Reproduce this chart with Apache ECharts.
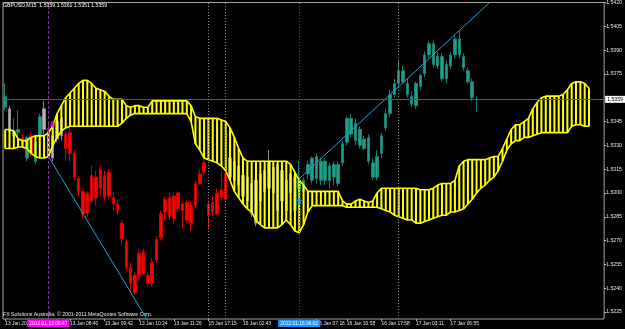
<!DOCTYPE html>
<html lang="en">
  <head>
    <meta charset="UTF-8" />
    <title>GBPUSD,M15 Ichimoku</title>
    <script src="https://cdn.jsdelivr.net/npm/echarts@6/dist/echarts.min.js"></script>
    <style>
      html, body { margin: 0; padding: 0; background: #000; }
      #chart { width: 625px; height: 329px; }
    </style>
  </head>
  <body>
    <div id="chart"></div>
    <script>
      // bars on the time axis (110 candles + 26 bars of shifted cloud + margin)
      const barCount = 139;

      // candles: [open, close, low, high]
      const candles = [
        [1.5354,1.5361,1.5352,1.5369],[1.5353,1.5339,1.5338,1.5355],[1.5336,1.5339,1.5333,1.5347],[1.5338,1.5340,1.5327,1.5352],
        [1.5335,1.5331,1.5328,1.5337],[1.5322,1.5335,1.5320,1.5336],[1.5336,1.5325,1.5323,1.5338],[1.5320,1.5332,1.5318,1.5333],
        [1.5336,1.5348,1.5334,1.5350],[1.5340,1.5353,1.5333,1.5358],[1.5341,1.5323,1.5322,1.5344],[1.5322,1.5336,1.5320,1.5339],
        [1.5334,1.5345,1.5332,1.5348],[1.5347,1.5336,1.5333,1.5352],[1.5337,1.5328,1.5320,1.5339],[1.5338,1.5325,1.5320,1.5342],
        [1.5325,1.5310,1.5308,1.5327],[1.5309,1.5301,1.5298,1.5311],[1.5301,1.5287,1.5284,1.5303],[1.5300,1.5287,1.5285,1.5301],
        [1.5311,1.5295,1.5293,1.5317],[1.5310,1.5297,1.5292,1.5314],[1.5315,1.5303,1.5298,1.5317],[1.5311,1.5297,1.5295,1.5314],
        [1.5313,1.5298,1.5296,1.5315],[1.5297,1.5293,1.5289,1.5301],[1.5293,1.5289,1.5286,1.5296],[1.5281,1.5271,1.5267,1.5283],
        [1.5269,1.5253,1.5251,1.5271],[1.5253,1.5243,1.5237,1.5256],[1.5248,1.5237,1.5236,1.5250],[1.5262,1.5248,1.5245,1.5264],
        [1.5263,1.5249,1.5248,1.5265],[1.5248,1.5243,1.5241,1.5250],[1.5256,1.5243,1.5241,1.5259],[1.5271,1.5258,1.5256,1.5273],
        [1.5287,1.5272,1.5270,1.5289],[1.5296,1.5288,1.5283,1.5298],[1.5297,1.5285,1.5283,1.5300],[1.5298,1.5284,1.5281,1.5300],
        [1.5300,1.5290,1.5288,1.5301],[1.5293,1.5289,1.5278,1.5295],[1.5294,1.5283,1.5281,1.5296],[1.5292,1.5281,1.5276,1.5295],
        [1.5306,1.5292,1.5290,1.5308],[1.5312,1.5306,1.5305,1.5315],[1.5319,1.5313,1.5311,1.5325],[1.5293,1.5286,1.5278,1.5295],
        [1.5294,1.5288,1.5286,1.5298],[1.5300,1.5287,1.5286,1.5303],[1.5302,1.5297,1.5295,1.5313],[1.5312,1.5296,1.5295,1.5314],
        [1.5322,1.5310,1.5308,1.5323],[1.5308,1.5320,1.5305,1.5322],[1.5317,1.5305,1.5303,1.5319],[1.5311,1.5298,1.5296,1.5313],
        [1.5310,1.5295,1.5292,1.5312],[1.5306,1.5287,1.5285,1.5308],[1.5281,1.5308,1.5279,1.5310],[1.5295,1.5312,1.5293,1.5314],
        [1.5314,1.5301,1.5298,1.5317],[1.5303,1.5320,1.5300,1.5327],[1.5316,1.5300,1.5298,1.5318],[1.5289,1.5318,1.5287,1.5320],
        [1.5314,1.5295,1.5293,1.5316],[1.5308,1.5289,1.5287,1.5310],[1.5300,1.5312,1.5298,1.5314],[1.5289,1.5310,1.5288,1.5311],
        [1.5303,1.5308,1.5301,1.5320],[1.5301,1.5308,1.5300,1.5310],[1.5312,1.5318,1.5309,1.5320],[1.5308,1.5322,1.5306,1.5323],
        [1.5323,1.5309,1.5306,1.5325],[1.5308,1.5320,1.5305,1.5322],[1.5320,1.5308,1.5305,1.5322],[1.5308,1.5317,1.5303,1.5319],
        [1.5318,1.5310,1.5305,1.5320],[1.5306,1.5318,1.5304,1.5320],[1.5319,1.5331,1.5317,1.5333],[1.5332,1.5347,1.5330,1.5348],
        [1.5337,1.5347,1.5335,1.5350],[1.5344,1.5333,1.5330,1.5347],[1.5340,1.5330,1.5328,1.5342],[1.5334,1.5328,1.5327,1.5336],
        [1.5335,1.5320,1.5318,1.5337],[1.5319,1.5310,1.5308,1.5322],[1.5310,1.5323,1.5308,1.5327],[1.5325,1.5336,1.5322,1.5338],
        [1.5341,1.5350,1.5339,1.5353],[1.5350,1.5362,1.5348,1.5365],[1.5362,1.5369,1.5360,1.5372],[1.5369,1.5377,1.5367,1.5383],
        [1.5377,1.5370,1.5369,1.5380],[1.5369,1.5362,1.5360,1.5372],[1.5361,1.5356,1.5354,1.5364],[1.5355,1.5369,1.5353,1.5370],
        [1.5367,1.5374,1.5365,1.5375],[1.5375,1.5387,1.5373,1.5389],[1.5387,1.5394,1.5385,1.5396],[1.5394,1.5381,1.5379,1.5396],
        [1.5380,1.5386,1.5378,1.5389],[1.5386,1.5372,1.5370,1.5388],[1.5372,1.5381,1.5369,1.5383],[1.5380,1.5387,1.5378,1.5389],
        [1.5387,1.5397,1.5385,1.5399],[1.5397,1.5387,1.5385,1.5402],[1.5386,1.5379,1.5377,1.5388],[1.5377,1.5370,1.5369,1.5379],
        [1.5370,1.5360,1.5358,1.5372],[1.5359,1.5359,1.5351,1.5361]
      ];

      // where each candle sits against the cloud: U above, I inside, D below
      const candleZone =
        "UIUUDUDUUIDIII" +
        "DDDDDDDDDDDDDDDDDDDDDDDDDDDDDDDDDDDDDD" +
        "IIIIIIIIIIIIIII" +
        "UUUUUUUUUUUUUUUUUUUUUUUUUUUUUUUUUUUUUUUUUUU";

      // Ichimoku cloud edges (shifted 26 bars forward)
      const spanUpper = [
        1.5340,1.5340,1.5339,1.5334,1.5333,1.5333,1.5335,1.5336,1.5336,1.5336,
        1.5338,1.5342,1.5350,1.5355,1.5360,1.5363,1.5366,1.5369,1.5371,1.5371,
        1.5369,1.5366,1.5365,1.5364,1.5361,1.5359,1.5359,1.5359,1.5355,1.5354,
        1.5355,1.5355,1.5354,1.5354,1.5358,1.5358,1.5358,1.5358,1.5358,1.5358,
        1.5358,1.5358,1.5358,1.5355,1.5348,1.5347,1.5347,1.5347,1.5347,1.5347,
        1.5346,1.5345,1.5341,1.5335,1.5328,1.5322,1.5320,1.5320,1.5320,1.5320,
        1.5320,1.5320,1.5320,1.5320,1.5320,1.5320,1.5318,1.5313,1.5308,1.5305,
        1.5301,1.5301,1.5301,1.5301,1.5301,1.5301,1.5301,1.5301,1.5295,1.5293,
        1.5293,1.5295,1.5296,1.5295,1.5294,1.5295,1.5300,1.5303,1.5303,1.5303,
        1.5303,1.5303,1.5303,1.5303,1.5303,1.5303,1.5302,1.5302,1.5302,1.5303,
        1.5305,1.5306,1.5306,1.5306,1.5308,1.5317,1.5320,1.5321,1.5321,1.5321,
        1.5321,1.5321,1.5322,1.5323,1.5323,1.5328,1.5334,1.5340,1.5343,1.5343,
        1.5345,1.5347,1.5353,1.5357,1.5360,1.5361,1.5361,1.5361,1.5361,1.5362,
        1.5365,1.5369,1.5370,1.5370,1.5369,1.5366
      ];
      const spanLower = [
        1.5328,1.5328,1.5328,1.5329,1.5329,1.5328,1.5325,1.5323,1.5322,1.5322,
        1.5323,1.5330,1.5335,1.5339,1.5341,1.5342,1.5342,1.5342,1.5342,1.5342,
        1.5342,1.5342,1.5342,1.5342,1.5342,1.5342,1.5342,1.5344,1.5347,1.5349,
        1.5350,1.5350,1.5350,1.5350,1.5350,1.5350,1.5350,1.5350,1.5350,1.5350,
        1.5350,1.5350,1.5350,1.5345,1.5331,1.5327,1.5322,1.5321,1.5320,1.5319,
        1.5317,1.5314,1.5308,1.5301,1.5297,1.5293,1.5290,1.5288,1.5283,1.5280,
        1.5278,1.5278,1.5278,1.5278,1.5280,1.5283,1.5280,1.5276,1.5275,1.5280,
        1.5288,1.5292,1.5292,1.5292,1.5292,1.5292,1.5292,1.5292,1.5292,1.5291,
        1.5291,1.5291,1.5291,1.5291,1.5291,1.5291,1.5291,1.5290,1.5289,1.5288,
        1.5286,1.5285,1.5284,1.5283,1.5283,1.5281,1.5281,1.5282,1.5283,1.5284,
        1.5285,1.5286,1.5286,1.5288,1.5288,1.5289,1.5290,1.5293,1.5296,1.5300,
        1.5303,1.5305,1.5308,1.5310,1.5314,1.5320,1.5327,1.5331,1.5333,1.5333,
        1.5335,1.5335,1.5336,1.5337,1.5338,1.5338,1.5338,1.5338,1.5338,1.5338,
        1.5338,1.5342,1.5343,1.5343,1.5342,1.5342
      ];

      // trend lines: [bar, price]
      const trendDown = [[10, 1.5323], [20, 1.5278], [30, 1.5233], [34, 1.5215]];
      const trendUp = [[68, 1.5309], [114, 1.5425]];

      // signal arrows: [bar, price]
      const sellArrow = [11, 1.5343];
      const buyArrow = [68, 1.5295];

      const lastPrice = 1.5359;
      const priceTicks = [1.5225, 1.5240, 1.5255, 1.5270, 1.5285, 1.5300, 1.5315,
        1.5330, 1.5345, 1.5375, 1.5390, 1.5405, 1.5420];

      const timeLabelIdx = [0, 15, 23, 31, 39, 47, 55, 72, 79, 87, 95, 103];
      const timeLabelText = ["13 Jan 2012", "13 Jan 08:40", "13 Jan 09:42", "13 Jan 10:24",
        "13 Jan 11:26", "15 Jan 17:15", "16 Jan 02:43", "16 Jan 07:16", "16 Jan 10:58",
        "16 Jan 17:58", "17 Jan 03:11", "17 Jan 06:55"];

      const zoneColor = {
        U: { body: "#1f9e8a", edge: "#17806f" },
        I: { body: "#b4b4b4", edge: "#8c8c8c" },
        D: { body: "#ff0000", edge: "#d40000" },
      };

      const font = "Liberation Sans";
      const smallText = { fontSize: 5.2, fontFamily: font, color: "#e8e8e8" };

      var chart = echarts.init(document.getElementById("chart"), null, { renderer: "canvas" });

      const categories = [];
      for (let i = 0; i < barCount; i++) categories.push(i);

      const candleData = candles.map((c, i) => {
        const col = zoneColor[candleZone[i]];
        return {
          value: c,
          itemStyle: { color: col.body, color0: col.body, borderColor: col.edge, borderColor0: col.edge },
        };
      });

      const isLabel = (i) => timeLabelIdx.indexOf(i) >= 0;

      const boxLabel = (text, bg) => ({
        show: true,
        position: "start",
        distance: 1,
        formatter: text,
        backgroundColor: bg,
        color: "#ffffff",
        fontSize: 4.9,
        fontFamily: font,
        padding: [1, 2],
      });

      var option = {
        animation: false,
        backgroundColor: "#000",
        title: {
          text: "GBPUSD,M15  1.5359 1.5361 1.5351 1.5359",
          left: 3,
          top: 3,
          padding: 0,
          textStyle: { fontSize: 5.2, fontFamily: font, fontWeight: "normal", color: "#ffffff" },
        },
        graphic: [
          {
            type: "text",
            left: 3,
            top: 312,
            style: {
              text: "FX Solutions Australia, \u00a9 2001-2011 MetaQuotes Software Corp.",
              fontSize: 5.2,
              fontFamily: font,
              fill: "#e8e8e8",
            },
          },
        ],
        grid: {
          left: 3,
          right: 20,
          top: 1,
          bottom: 10,
          show: true,
          borderColor: "#a8a898",
          borderWidth: 1,
          backgroundColor: "#000",
        },
        xAxis: {
          type: "category",
          data: categories,
          boundaryGap: true,
          axisLine: { show: false },
          axisTick: {
            show: true,
            interval: (i) => isLabel(i),
            alignWithLabel: true,
            length: 2,
            lineStyle: { color: "#b0b0b0" },
          },
          axisLabel: {
            interval: (i) => isLabel(i),
            formatter: (v, i) => {
              const k = timeLabelIdx.indexOf(i);
              return k >= 0 ? timeLabelText[k] : "";
            },
            align: "left",
            margin: 2,
            ...smallText,
            fontSize: 4.9,
          },
          splitLine: { show: false },
        },
        yAxis: {
          type: "value",
          position: "right",
          min: 1.52206,
          max: 1.542,
          axisLine: { show: false },
          axisTick: {
            show: true,
            customValues: priceTicks,
            length: 2,
            lineStyle: { color: "#c0c0c0" },
          },
          axisLabel: {
            customValues: priceTicks,
            formatter: (v) => v.toFixed(4),
            margin: 2,
            ...smallText,
          },
          splitLine: { show: false },
        },
        series: [
          {
            type: "candlestick",
            name: "GBPUSD",
            z: 2,
            barWidth: 3,
            data: candleData,
            markLine: {
              silent: true,
              symbol: ["none", "none"],
              precision: 4,
              animation: false,
              data: [
                {
                  yAxis: lastPrice,
                  lineStyle: { color: "#5a5a5a", type: "solid", width: 1 },
                  label: {
                    show: true,
                    position: "end",
                    distance: 1,
                    formatter: "1.5359",
                    backgroundColor: "#ffffff",
                    color: "#000",
                    fontSize: 5.2,
                    fontFamily: font,
                    padding: [1, 2],
                  },
                },
                { xAxis: 10, lineStyle: { color: "#8a2fa8", type: [3, 2], width: 1 }, label: boxLabel("2012.01.13 06:47", "#ff00ff") },
                { xAxis: 47, lineStyle: { color: "#8a8a8a", type: [1, 2], width: 1 }, label: { show: false } },
                { xAxis: 51, lineStyle: { color: "#8a8a8a", type: [1, 2], width: 1 }, label: { show: false } },
                { xAxis: 68, lineStyle: { color: "#1c6f8f", type: [1, 2], width: 1 }, label: boxLabel("2012.01.16 06:02", "#1e90ff") },
                { xAxis: 91, lineStyle: { color: "#8a8a8a", type: [1, 2], width: 1 }, label: { show: false } },
              ],
            },
          },
          {
            // cloud hatching: one yellow stroke per bar between the two spans
            type: "custom",
            name: "Kumo",
            z: 3,
            data: spanUpper.map((u, i) => [i, spanLower[i], u]),
            encode: { x: 0, y: [1, 2] },
            renderItem: function (params, api) {
              const a = api.coord([api.value(0), api.value(1)]);
              const b = api.coord([api.value(0), api.value(2)]);
              return {
                type: "rect",
                shape: { x: a[0] - 1, y: Math.min(a[1], b[1]), width: 2, height: Math.abs(a[1] - b[1]) },
                style: { fill: "#ffff00" },
              };
            },
          },
          {
            type: "line",
            name: "Senkou Span A",
            z: 3,
            data: spanUpper,
            symbol: "none",
            lineStyle: { color: "#ffff00", width: 1.6 },
          },
          {
            type: "line",
            name: "Senkou Span B",
            z: 3,
            data: spanLower,
            symbol: "none",
            lineStyle: { color: "#ffff00", width: 1.6 },
          },
          {
            type: "line",
            name: "trend down",
            z: 4,
            data: trendDown,
            symbol: (v, p) => (p.dataIndex === 0 ? "circle" : p.dataIndex < 3 ? "rect" : "none"),
            symbolSize: 3,
            itemStyle: { color: "#1aa6dd" },
            lineStyle: { color: "#1aa6dd", width: 1 },
          },
          {
            type: "line",
            name: "trend up",
            z: 4,
            data: trendUp,
            symbol: "none",
            lineStyle: { color: "#1aa6dd", width: 1 },
          },
          {
            type: "scatter",
            name: "signals",
            z: 5,
            data: [
              {
                value: sellArrow,
                symbol: "path://M2,0 L6,0 L6,5 L8,5 L4,10 L0,5 L2,5 Z",
                symbolSize: [6, 7],
                itemStyle: { color: "#ff00ff" },
              },
              {
                value: buyArrow,
                symbol: "path://M4,0 L8,5 L6,5 L6,10 L2,10 L2,5 L0,5 Z",
                symbolSize: [6, 7],
                itemStyle: { color: "#1e90ff" },
              },
            ],
          },
        ],
      };

      option && chart.setOption(option);
    </script>
  </body>
</html>
